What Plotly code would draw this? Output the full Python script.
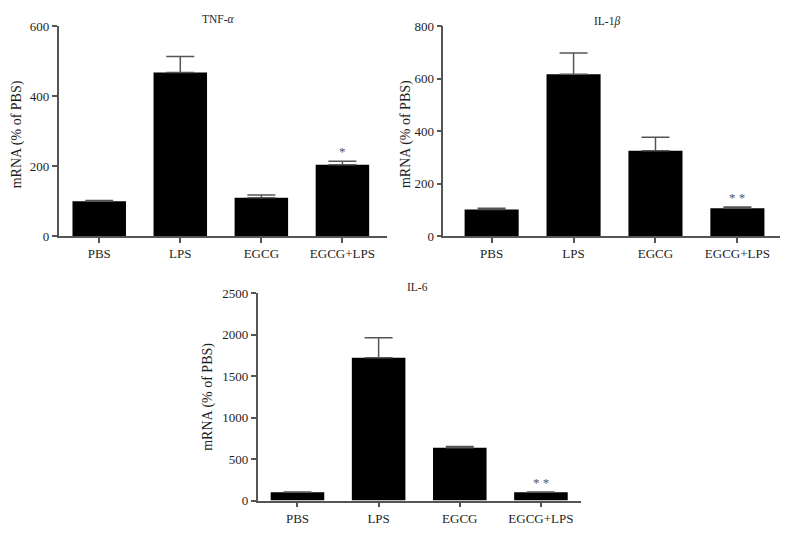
import plotly.graph_objects as go

categories = ["PBS", "LPS", "EGCG", "EGCG+LPS"]

tnf_values = [100, 468, 110, 204]
tnf_errors = [2, 46, 8, 10]
tnf_stars = ["", "", "", "*"]

il1b_values = [102, 618, 326, 106]
il1b_errors = [4, 81, 51, 5]
il1b_stars = ["", "", "", "* *"]

il6_values = [100, 1722, 637, 100]
il6_errors = [2, 240, 15, 3]
il6_stars = ["", "", "", "* *"]

tnf_ticks = [0, 200, 400, 600]
il1b_ticks = [0, 200, 400, 600, 800]
il6_ticks = [0, 500, 1000, 1500, 2000, 2500]

W, H = 787, 537
FONT = "Liberation Serif, Times New Roman, serif"
AXC = "#555555"
TXT = "#1e1e1e"

panels = [
    dict(vals=tnf_values, errs=tnf_errors, stars=tnf_stars, ticks=tnf_ticks,
         title="TNF-<i>α</i>", xpx=(58.7, 387), ypx=(20, 235.7), xr=[-0.5, 3.55],
         ymax=600, tpos=(218, 12.7), ytpos=(17, 131)),
    dict(vals=il1b_values, errs=il1b_errors, stars=il1b_stars, ticks=il1b_ticks,
         title="IL-1<i>β</i>", xpx=(443.3, 780), ypx=(20, 235.7), xr=[-0.59, 3.52],
         ymax=800, tpos=(607, 15), ytpos=(406.7, 131)),
    dict(vals=il6_values, errs=il6_errors, stars=il6_stars, ticks=il6_ticks,
         title="IL-6", xpx=(257.7, 580.7), ypx=(294.3, 507.7), xr=[-0.49, 3.49],
         ymax=2500, tpos=(418, 288), ytpos=(208, 401)),
]

fig = go.Figure()
annotations = []
layout = dict(
    width=W, height=H, margin=dict(l=0, r=0, t=0, b=0),
    paper_bgcolor="white", plot_bgcolor="white", showlegend=False,
    font=dict(family=FONT, color=TXT, size=13),
)

for i, p in enumerate(panels, start=1):
    sfx = "" if i == 1 else str(i)
    xa, ya = "x" + sfx, "y" + sfx
    fig.add_trace(go.Bar(
        x=categories, y=p["vals"], xaxis=xa, yaxis=ya,
        marker=dict(color="black", line=dict(width=0)),
        width=0.66,
        error_y=dict(type="data", array=p["errs"], arrayminus=[0] * 4,
                     symmetric=False, color=AXC, thickness=1.5, width=14),
    ))
    layout["xaxis" + sfx] = dict(
        domain=[p["xpx"][0] / W, p["xpx"][1] / W], anchor=ya,
        range=p["xr"], showgrid=False, zeroline=False, showline=True,
        linecolor=AXC, linewidth=1.5, ticks="outside", ticklen=5,
        tickcolor=AXC, tickwidth=1.5, tickfont=dict(size=13, family=FONT, color=TXT),
        fixedrange=True,
    )
    layout["yaxis" + sfx] = dict(
        domain=[1 - p["ypx"][1] / H, 1 - p["ypx"][0] / H], anchor=xa,
        range=[0, p["ymax"]], tickvals=p["ticks"], showgrid=False, zeroline=False,
        showline=True, linecolor=AXC, linewidth=1.5, ticks="outside", ticklen=5,
        tickcolor=AXC, tickwidth=1.5, tickfont=dict(size=13, family=FONT, color=TXT),
        fixedrange=True,
    )
    annotations.append(dict(
        text=p["title"], xref="paper", yref="paper",
        x=p["tpos"][0] / W, y=1 - p["tpos"][1] / H, xanchor="center", yanchor="middle",
        showarrow=False, font=dict(size=11.5, family=FONT, color=TXT),
    ))
    annotations.append(dict(
        text="mRNA (% of PBS)", xref="paper", yref="paper", textangle=-90,
        x=p["ytpos"][0] / W, y=1 - p["ytpos"][1] / H, xanchor="center", yanchor="middle",
        showarrow=False, font=dict(size=14, family=FONT, color=TXT),
    ))
    for c, v, e, s in zip(categories, p["vals"], p["errs"], p["stars"]):
        if s:
            annotations.append(dict(
                text=s, xref=xa, yref=ya, x=c, y=v + e, yanchor="bottom",
                yshift=0, showarrow=False, font=dict(size=13, family=FONT, color="#555555"),
            ))

layout["annotations"] = annotations
fig.update_layout(**layout)
fig.write_html("out.html", config={"displayModeBar": False},
               post_script="document.body.style.margin='0';")
